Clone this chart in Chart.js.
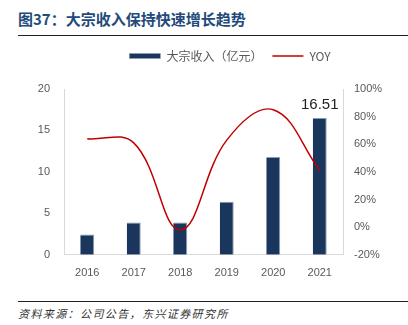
<!DOCTYPE html>
<html>
<head>
<meta charset="utf-8">
<script src="https://cdn.jsdelivr.net/npm/chart.js@4"></script>
<style>
  body { margin: 0; width: 408px; height: 325px; background: #fff; position: relative; overflow: hidden; font-family: "Noto Sans CJK SC", sans-serif; }
  #title { position: absolute; left: 18px; top: 8px; font-size: 15px; font-weight: bold; color: #234a7a; }
  #rule1 { position: absolute; left: 18px; right: 0; top: 35px; border-top: 1px solid #222; }
  #rule2 { position: absolute; left: 18px; right: 0; top: 301px; border-top: 1px solid #222; }
  #source { position: absolute; left: 18px; top: 305px; font-size: 11px; font-style: italic; color: #333; letter-spacing: 1.4px; }
  #wrap { position: absolute; left: 0; top: 40px; width: 408px; height: 244px; }
</style>
</head>
<body>
<div id="title">图37：大宗收入保持快速增长趋势</div>
<div id="rule1"></div>
<div id="wrap"><canvas id="chart"></canvas></div>
<div id="rule2"></div>
<div id="source">资料来源：公司公告，东兴证券研究所</div>
<script>
const years = ['2016', '2017', '2018', '2019', '2020', '2021'];
const revenue = [2.45, 3.9, 3.9, 6.4, 11.8, 16.51];
const yoy = [64, 61, -2, 63, 85, 41];
const leftTicks = [0, 5, 10, 15, 20];
const rightTicks = [-20, 0, 20, 40, 60, 80, 100];

const axisGrey = '#d9d9d9';
const tickColor = '#595959';

// label on last bar only
const lastLabel = {
  id: 'lastLabel',
  afterDatasetsDraw(chart) {
    const meta = chart.getDatasetMeta(0);
    const bar = meta.data[meta.data.length - 1];
    const c = chart.ctx;
    c.save();
    c.font = '15px "Liberation Sans", Arial, sans-serif';
    c.fillStyle = '#222';
    c.textAlign = 'center';
    c.textBaseline = 'bottom';
    c.fillText(revenue[revenue.length - 1].toFixed(2), bar.x, bar.y - 6);
    c.restore();
  }
};

// extra room under the legend, and nudge it right like the original
const legendTweak = {
  id: 'legendTweak',
  afterInit(chart) {
    const lg = chart.legend;
    const fit = lg.fit;
    lg.fit = function () {
      fit.call(this);
      this.height += 17;
    };
    const draw = lg.draw;
    lg.draw = function () {
      this.ctx.save();
      this.ctx.translate(26, 0);
      draw.call(this);
      this.ctx.restore();
    };
  }
};

const ctx = document.getElementById('chart').getContext('2d');
const chart = new Chart(ctx, {
  data: {
    labels: years,
    datasets: [
      {
        type: 'bar',
        label: '大宗收入（亿元）',
        data: revenue,
        backgroundColor: '#1a365d',
        borderColor: '#8a9bb5',
        borderWidth: { top: 1, left: 0, right: 1, bottom: 0 },
        barPercentage: 0.3,
        categoryPercentage: 1,
        yAxisID: 'y',
        pointStyle: 'rect',
        order: 2,
      },
      {
        type: 'line',
        label: 'YOY',
        data: yoy,
        borderColor: '#c00000',
        backgroundColor: '#c00000',
        borderWidth: 1.5,
        pointRadius: 0,
        tension: 0.4,
        yAxisID: 'y1',
        pointStyle: 'line',
        order: 1,
      },
    ],
  },
  options: {
    responsive: true,
    maintainAspectRatio: false,
    animation: false,
    layout: { padding: 0 },
    plugins: {
      legend: {
        position: 'top',
        labels: {
          usePointStyle: true,
          pointStyleWidth: 31,
          boxHeight: 5,
          padding: 10,
          color: tickColor,
          font: { size: 12, family: '"Noto Sans CJK SC", sans-serif' },
          sort: (a, b) => a.datasetIndex - b.datasetIndex,
        },
      },
      tooltip: { enabled: false },
    },
    scales: {
      x: {
        grid: { display: false },
        border: { color: axisGrey },
        ticks: { color: tickColor, padding: 4, font: { size: 11, family: '"Liberation Sans", Arial' } },
      },
      y: {
        position: 'left',
        min: 0,
        max: 20,
        afterBuildTicks: (s) => { s.ticks = leftTicks.map((v) => ({ value: v })); },
        afterFit: (s) => { s.width = 64; },
        grid: { display: false },
        border: { color: axisGrey },
        ticks: { color: tickColor, padding: 6, font: { size: 11, family: '"Liberation Sans", Arial' } },
      },
      y1: {
        position: 'right',
        min: -20,
        max: 100,
        afterBuildTicks: (s) => { s.ticks = rightTicks.map((v) => ({ value: v })); },
        afterFit: (s) => { s.width = 65; },
        grid: { display: false },
        border: { color: axisGrey },
        ticks: {
          color: tickColor,
          padding: 3,
          font: { size: 11, family: '"Liberation Sans", Arial' },
          callback: (v) => v + '%',
        },
      },
    },
  },
  plugins: [lastLabel, legendTweak],
});
</script>
</body>
</html>
